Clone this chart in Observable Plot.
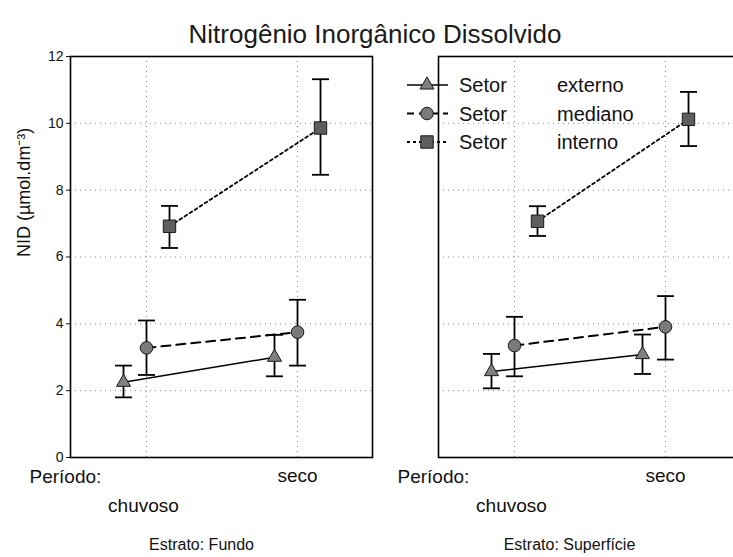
<!DOCTYPE html>
<html>
<head>
<meta charset="utf-8">
<script src="https://cdn.jsdelivr.net/npm/d3@7"></script>
<script src="https://cdn.jsdelivr.net/npm/@observablehq/plot@0.6"></script>
<style>
  body { margin: 0; background: #fff; }
  #wrap { position: relative; width: 733px; height: 557px; overflow: hidden; background: #fff;
          font-family: "Liberation Sans", Arial, sans-serif; color: #111; }
  #chart { position: absolute; left: 0; top: 0; width: 745px; }
  #chart svg { max-width: none !important; }
  #title { position: absolute; left: 0; top: 21px; width: 750px; text-align: center;
           font-size: 26px; line-height: 26px; color: #1a1a1a; }
  #legend { position: absolute; left: 0; top: 0; pointer-events: none; }
</style>
</head>
<body>
<div id="wrap">
  <div id="chart"></div>
  <div id="title">Nitrogênio Inorgânico Dissolvido</div>
  <svg id="legend" width="733" height="557"></svg>
</div>
<script>
// ---------------- data ----------------
const titleText = "Nitrogênio Inorgânico Dissolvido";
const yLabel = "NID (µmol.dm\u207B\u00B3)";
const xAxisLabel = "Período:";
const facetPrefix = "Estrato: ";
const legendPrefix = "Setor";
const estratos = ["Fundo", "Superfície"];
const periodos = ["chuvoso", "seco"];
const setores = ["externo", "mediano", "interno"];
const yTicks = [0, 2, 4, 6, 8, 10, 12];
const yGrid = [2, 4, 6, 8, 10];

// rows: setor (externo, mediano, interno); columns: periodo (chuvoso, seco)
const mediaFundo    = [[2.25, 3.00], [3.28, 3.75], [6.92, 9.86]];
const inferiorFundo = [[1.80, 2.43], [2.47, 2.75], [6.27, 8.46]];
const superiorFundo = [[2.75, 3.67], [4.10, 4.72], [7.53, 11.32]];

const mediaSuperficie    = [[2.57, 3.08], [3.35, 3.91], [7.07, 10.12]];
const inferiorSuperficie = [[2.07, 2.50], [2.43, 2.93], [6.63, 9.32]];
const superiorSuperficie = [[3.10, 3.68], [4.21, 4.83], [7.52, 10.94]];

// ---------------- build table ----------------
const medias = [mediaFundo, mediaSuperficie];
const inferiores = [inferiorFundo, inferiorSuperficie];
const superiores = [superiorFundo, superiorSuperficie];
const rows = [];
estratos.forEach((e, ei) => setores.forEach((s, si) => periodos.forEach((p, pi) => {
  rows.push({estrato: e, setor: s, periodo: p,
             media: medias[ei][si][pi], lo: inferiores[ei][si][pi], hi: superiores[ei][si][pi]});
})));

// ---------------- styles ----------------
const style = {
  externo: {dx: -23, dash: null,  lw: 1.5, symbol: "triangle", d3sym: d3.symbolTriangle, r: 5.2, fill: "#808080"},
  mediano: {dx: 0,   dash: "9,6", lw: 2,   symbol: "circle",   d3sym: d3.symbolCircle,   r: 6.3, fill: "#7a7a7a"},
  interno: {dx: 23,  dash: "3,3", lw: 1.8, symbol: "square",   d3sym: d3.symbolSquare,   r: 7,   fill: "#5e5e5e"}
};
const capSymbol = {
  draw(ctx, size) { const w = Math.sqrt(size / Math.PI); ctx.moveTo(-w, 0); ctx.lineTo(w, 0); }
};

const seriesMarks = [];
setores.forEach(s => {
  const st = style[s];
  const f = d => d.setor === s;
  seriesMarks.push(
    Plot.line(rows, {filter: f, x: "periodo", y: "media", dx: st.dx, stroke: "black",
                     strokeWidth: st.lw, strokeDasharray: st.dash})
  );
});
setores.forEach(s => {
  const st = style[s];
  const f = d => d.setor === s;
  seriesMarks.push(
    Plot.ruleX(rows, {filter: f, x: "periodo", y1: "lo", y2: "hi", dx: st.dx, stroke: "black", strokeWidth: 1.8}),
    Plot.dot(rows, {filter: f, x: "periodo", y: "hi", dx: st.dx, symbol: capSymbol, r: 8.5, fill: "none", stroke: "black", strokeWidth: 1.8}),
    Plot.dot(rows, {filter: f, x: "periodo", y: "lo", dx: st.dx, symbol: capSymbol, r: 8.5, fill: "none", stroke: "black", strokeWidth: 1.8}),
    Plot.dot(rows, {filter: f, x: "periodo", y: "media", dx: st.dx, symbol: st.symbol, r: st.r,
                    fill: st.fill, stroke: "#1a1a1a", strokeWidth: 1})
  );
});

const chart = Plot.plot({
  width: 745,
  height: 557,
  marginTop: 56,
  marginBottom: 100,
  marginLeft: 70,
  marginRight: 4,
  style: {fontFamily: "Liberation Sans, Arial, sans-serif", fontSize: "14px", color: "#111",
          background: "white", overflow: "visible", maxWidth: "none"},
  facet: {data: rows, x: "estrato"},
  fx: {domain: estratos, paddingInner: 66 / 368.5, paddingOuter: 0, axis: null},
  x: {type: "point", domain: periodos, padding: 0.5, axis: null},
  y: {domain: [0, 12], ticks: yTicks, tickSize: 4, tickPadding: 3, label: null},
  marks: [
    Plot.ruleY(yGrid, {stroke: "#8a8a8a", strokeWidth: 1, strokeDasharray: "1,4"}),
    Plot.ruleX(periodos, {x: d => d, stroke: "#8a8a8a", strokeWidth: 1, strokeDasharray: "1,4"}),
    Plot.frame({stroke: "black", strokeWidth: 1.6}),
    ...seriesMarks,
    // y label (left facet only)
    Plot.text(rows, Plot.selectFirst({filter: d => d.estrato === estratos[0], text: () => yLabel,
      frameAnchor: "left", rotate: -90, dx: -46, fontSize: 18, fill: "#111"})),
    // "Período:" per facet
    Plot.text(rows, Plot.selectFirst({text: () => xAxisLabel, frameAnchor: "bottom-left",
      textAnchor: "start", dx: -41, dy: 25, fontSize: 19, fill: "#111"})),
    // category labels (staggered)
    Plot.text(rows, {filter: d => d.setor === "mediano" && d.periodo === periodos[1], x: "periodo", text: "periodo",
      frameAnchor: "bottom", dy: 24, fontSize: 19, fill: "#111"}),
    Plot.text(rows, {filter: d => d.setor === "mediano" && d.periodo === periodos[0], x: "periodo", text: "periodo",
      frameAnchor: "bottom", dx: -3, dy: 54, fontSize: 19, fill: "#111"}),
    // facet labels
    Plot.text(rows, Plot.selectFirst({text: d => facetPrefix + d.estrato, frameAnchor: "bottom",
      dx: -20, dy: 92, fontSize: 16, fill: "#111"}))
  ]
});
document.getElementById("chart").appendChild(chart);
document.getElementById("title").textContent = titleText;

// ---------------- legend ----------------
const leg = d3.select("#legend");
setores.forEach((s, i) => {
  const st = style[s];
  const cy = 85 + i * 28.5;
  leg.append("line").attr("x1", 407).attr("x2", 448).attr("y1", cy).attr("y2", cy)
    .attr("stroke", "black").attr("stroke-width", st.lw)
    .attr("stroke-dasharray", s === "mediano" ? "7,5" : st.dash);
  leg.append("path").attr("transform", `translate(427,${cy})`)
    .attr("d", d3.symbol(st.d3sym, st.r * st.r * Math.PI)())
    .attr("fill", st.fill).attr("stroke", "#1a1a1a").attr("stroke-width", 1);
  leg.append("text").attr("x", 459).attr("y", cy).attr("dy", "0.36em")
    .attr("font-size", 20).attr("font-family", "Liberation Sans, Arial, sans-serif")
    .attr("fill", "#111").text(legendPrefix);
  leg.append("text").attr("x", 557).attr("y", cy).attr("dy", "0.36em")
    .attr("font-size", 20).attr("font-family", "Liberation Sans, Arial, sans-serif")
    .attr("fill", "#111").text(s);
});
</script>
</body>
</html>
